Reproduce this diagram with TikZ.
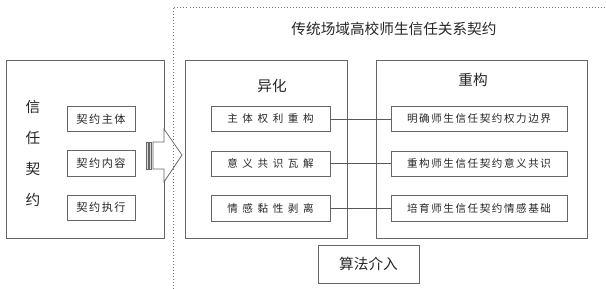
\documentclass[tikz,border=0pt]{standalone}
\usepackage{fontspec}
\setmainfont{Noto Sans CJK SC}
\newfontfamily\cjkleft[LetterSpace=14]{Noto Sans CJK SC}
\newfontfamily\cjkmid[LetterSpace=44]{Noto Sans CJK SC}
\newfontfamily\cjkright[LetterSpace=15]{Noto Sans CJK SC}
\usetikzlibrary{positioning}
\tikzset{
  frame/.style  = {draw=black!60, line width=0.7pt, minimum height=5.34cm,
                   inner sep=0pt},
  item/.style   = {draw=black!60, line width=0.6pt, minimum height=0.76cm,
                   inner sep=0pt, text=black!85},
  head/.style   = {font=\fontsize{12.5}{14}\selectfont, text=black!85},
  link/.style   = {draw=black!65, line width=0.5pt}
}
\colorlet{lineg}{black!60}

\begin{document}
\begin{tikzpicture}[x=0.03cm, y=-0.03cm, node distance=0.56cm]
    \useasboundingbox (0,0) rectangle (606,289);

    % outer boxes
    \node[frame, minimum width=4.74cm] (contract) at (85,149) {};
    \node[frame, minimum width=4.86cm] (alien) at (266,149) {};
    \node[frame, minimum width=6.33cm] (rebuild) at (481.5,149) {};

    % headings
    \node[head] (title) at (394,29) {传统场域高校师生信任关系契约};
    \node[head] (alienT) at (272,86) {异化};
    \node[head] (rebuildT) at (473,80) {重构};
    \node[head, align=center, font=\fontsize{12.5}{26.5}\selectfont] (trust) at (33,153.5)
        {信\\任\\契\\约};

    % left column
    \node[item, minimum width=2.04cm, font=\fontsize{9.5}{10}\cjkleft] (c1) at (101,119) {契约主体};
    \node[item, minimum width=2.04cm, font=\fontsize{9.5}{10}\cjkleft, below=0.55cm of c1] (c2) {契约内容};
    \node[item, minimum width=2.04cm, font=\fontsize{9.5}{10}\cjkleft, below=0.55cm of c2] (c3) {契约执行};

    % middle column
    \node[item, minimum width=3.57cm, font=\fontsize{9}{10}\cjkmid] (a1) at (270.5,119) {主体权利重构};
    \node[item, minimum width=3.57cm, font=\fontsize{9}{10}\cjkmid, below=of a1] (a2) {意义共识瓦解};
    \node[item, minimum width=3.57cm, font=\fontsize{9}{10}\cjkmid, below=of a2] (a3) {情感黏性剥离};

    % right column
    \node[item, minimum width=5.28cm, font=\fontsize{9}{10}\cjkright] (r1) at (479,119) {明确师生信任契约权力边界};
    \node[item, minimum width=5.28cm, font=\fontsize{9}{10}\cjkright, below=of r1] (r2) {重构师生信任契约意义共识};
    \node[item, minimum width=5.28cm, font=\fontsize{9}{10}\cjkright, below=of r2] (r3) {培育师生信任契约情感基础};

    \draw[link] (a1.east) -- (r1.west);
    \draw[link] (a2.east) -- (r2.west);
    \draw[link] (a3.east) -- (r3.west);

    % algorithm box
    \node[item, minimum width=3.03cm, minimum height=1.14cm, head] (algo) at (368.5,264) {算法介入};

    % striped arrow
    \draw[lineg, line width=0.6pt, fill=white]
      (153,142) -- (164,142) -- (164,129) -- (182,155) -- (164,182) -- (164,169) -- (153,169) -- cycle;
    \draw[lineg, line width=0.6pt, fill=black!15] (146,142) rectangle (148,169);
    \draw[lineg, line width=0.6pt, fill=black!15] (149.5,142) rectangle (151.5,169);

    % dotted frame
    \draw[black!55, line width=0.6pt, dotted] (173,289) -- (173,7) -- (606,7);
\end{tikzpicture}
\end{document}
